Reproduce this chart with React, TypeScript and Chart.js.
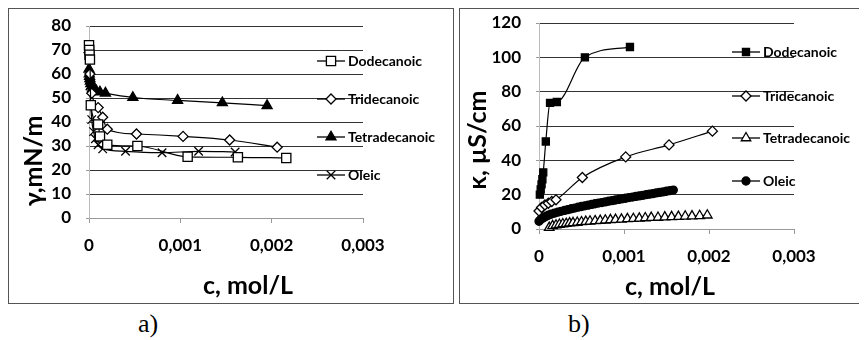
import React, { useEffect, useRef } from 'react';
import { Chart, registerables } from 'chart.js';

Chart.register(...registerables);

// ---------- Data ----------
const seriesNames = ['Dodecanoic', 'Tridecanoic', 'Tetradecanoic', 'Oleic'];
const xTickValues = [0, 0.001, 0.002, 0.003];
const xTickLabels = ['0', '0,001', '0,002', '0,003'];

// Panel a) surface tension γ (mN/m) vs c (mol/L)
const aDodecC = [0, 0.000003, 0.000006, 0.00001, 0.00002, 0.0001, 0.00012, 0.0002, 0.00053, 0.00108, 0.00163, 0.00216];
const aDodecG = [72, 70, 68, 66, 47, 39, 34, 30.5, 30, 25.5, 25.3, 25];
const aTridecC = [0, 0.00001, 0.00003, 0.0001, 0.00015, 0.0002, 0.00052, 0.00103, 0.00154, 0.00206];
const aTridecG = [69, 60, 52, 46, 42, 37, 35, 34, 32.5, 29.5];
const aTetradecC = [0, 0.000003, 0.000006, 0.00001, 0.000015, 0.00002, 0.00003, 0.00004, 0.00006, 0.00008, 0.00012, 0.00018, 0.00048, 0.00097, 0.00146, 0.00195];
const aTetradecG = [62, 60, 59, 58, 57, 56, 55, 54, 53.5, 53, 52.5, 52, 50.2, 49, 48, 46.8];
const aOleicC = [0, 0.000003, 0.00001, 0.00003, 0.00005, 0.00007, 0.0001, 0.00015, 0.0004, 0.0008, 0.0012, 0.0016];
const aOleicG = [72, 70, 55, 41, 36, 33, 30.5, 28.8, 27.8, 27.2, 27.8, 27.5];

// Panel b) conductivity κ (µS/cm) vs c (mol/L)
const bDodecC = [0.00001, 0.00002, 0.00003, 0.00004, 0.00005, 0.00008, 0.00013, 0.00021, 0.00054, 0.00107];
const bDodecK = [20, 23, 26, 29, 33, 51, 73.5, 74, 100, 106];
const bTridecC = [0, 0.00003, 0.00007, 0.00011, 0.00015, 0.0002, 0.00051, 0.00102, 0.00153, 0.00204];
const bTridecK = [10.5, 12.5, 14, 15, 16, 17, 30, 42, 49, 57];
const bTetradecC = [0.00012, 0.00016, 0.0002, 0.00024, 0.00028, 0.00032, 0.00036, 0.0004, 0.00045, 0.0005, 0.00055, 0.0006, 0.00066, 0.00072, 0.00078, 0.00084, 0.0009, 0.00097, 0.00104, 0.00111, 0.00118, 0.00125, 0.00132, 0.0014, 0.00148, 0.00156, 0.00164, 0.00172, 0.0018, 0.00189, 0.00198];
const bTetradecK = [0.8, 1.8, 2.2, 2.6, 2.9, 3.1, 3.4, 3.6, 3.8, 4.1, 4.3, 4.5, 4.7, 4.9, 5.1, 5.3, 5.5, 5.6, 5.9, 6.0, 6.2, 6.4, 6.6, 6.7, 6.9, 7.1, 7.2, 7.4, 7.5, 7.7, 8.0];
const bOleicC = [0, 0.00002, 0.00005, 0.00008, 0.00011, 0.00014, 0.00018, 0.00022, 0.00026, 0.0003, 0.00034, 0.00038, 0.00042, 0.00046, 0.0005, 0.00054, 0.00058, 0.00062, 0.00066, 0.0007, 0.00074, 0.00078, 0.00082, 0.00086, 0.0009, 0.00094, 0.00098, 0.00102, 0.00106, 0.0011, 0.00114, 0.00118, 0.00122, 0.00126, 0.0013, 0.00134, 0.00138, 0.00142, 0.00146, 0.0015, 0.00154, 0.00158];
const bOleicK = [4.5, 5.5, 6.5, 7.3, 8.0, 8.6, 9.2, 9.8, 10.3, 10.8, 11.3, 11.8, 12.2, 12.7, 13.1, 13.5, 13.9, 14.3, 14.7, 15.1, 15.4, 15.8, 16.2, 16.5, 16.9, 17.2, 17.6, 17.9, 18.3, 18.6, 19.0, 19.3, 19.6, 20.0, 20.3, 20.6, 21.0, 21.3, 21.6, 22.0, 22.3, 22.7];

// ---------- Helpers ----------
const FONT = 'Lato, "Open Sans", sans-serif';

type Marker = { style: string; r: number; fill: string };

function zip(xs: number[], ys: number[]) {
  return xs.map((x, i) => ({ x, y: ys[i] }));
}

function drawMarker(ctx: CanvasRenderingContext2D, m: Marker, x: number, y: number) {
  const r = m.r;
  ctx.beginPath();
  switch (m.style) {
    case 'rect': {
      const s = Math.SQRT1_2 * r;
      ctx.rect(x - s, y - s, 2 * s, 2 * s);
      break;
    }
    case 'rectRot':
      ctx.moveTo(x - r, y);
      ctx.lineTo(x, y - r);
      ctx.lineTo(x + r, y);
      ctx.lineTo(x, y + r);
      ctx.closePath();
      break;
    case 'triangle':
      ctx.moveTo(x, y - r);
      ctx.lineTo(x + 0.866 * r, y + 0.5 * r);
      ctx.lineTo(x - 0.866 * r, y + 0.5 * r);
      ctx.closePath();
      break;
    case 'circle':
      ctx.arc(x, y, r, 0, Math.PI * 2);
      break;
    case 'crossRot': {
      const d = Math.SQRT1_2 * r;
      ctx.moveTo(x - d, y - d);
      ctx.lineTo(x + d, y + d);
      ctx.moveTo(x + d, y - d);
      ctx.lineTo(x - d, y + d);
      break;
    }
  }
  if (m.style !== 'crossRot') {
    ctx.fillStyle = m.fill;
    ctx.fill();
  }
  ctx.stroke();
}

type PanelCfg = {
  width: number;
  height: number;
  plotLeft: number;
  plotRight: number;
  plotTop: number;
  plotBottom: number;
  yMax: number;
  yStep: number;
  xs: number[][];
  ys: number[][];
  markers: Marker[];
  legendX: number;
  legendYs: number[];
  xTitle: string;
  xTitlePos: [number, number];
  yTitle: string;
  yTitlePos: [number, number];
};

function makeChart(canvas: HTMLCanvasElement, cfg: PanelCfg) {
  const deco = {
    id: 'deco',
    afterDraw(chart: any) {
      const ctx: CanvasRenderingContext2D = chart.ctx;
      ctx.save();
      // legend
      seriesNames.forEach((name, i) => {
        const y = cfg.legendYs[i];
        const x0 = cfg.legendX;
        ctx.strokeStyle = '#000';
        ctx.lineWidth = 1.3;
        ctx.beginPath();
        ctx.moveTo(x0, y);
        ctx.lineTo(x0 + 28, y);
        ctx.stroke();
        drawMarker(ctx, cfg.markers[i], x0 + 14, y);
        ctx.fillStyle = '#000';
        ctx.font = `bold 14px ${FONT}`;
        ctx.textAlign = 'left';
        ctx.textBaseline = 'middle';
        ctx.fillText(name, x0 + 31, y + 0.5);
      });
      // axis titles
      ctx.fillStyle = '#000';
      ctx.font = `bold 25px ${FONT}`;
      ctx.textAlign = 'center';
      ctx.textBaseline = 'middle';
      ctx.fillText(cfg.xTitle, cfg.xTitlePos[0], cfg.xTitlePos[1]);
      ctx.translate(cfg.yTitlePos[0], cfg.yTitlePos[1]);
      ctx.rotate(-Math.PI / 2);
      ctx.fillText(cfg.yTitle, 0, 0);
      ctx.restore();
    },
  };

  const datasets = seriesNames.map((name, i) => ({
    label: name,
    data: zip(cfg.xs[i], cfg.ys[i]),
    showLine: true,
    clip: false,
    borderColor: '#000',
    borderWidth: 1.2,
    backgroundColor: cfg.markers[i].fill,
    pointStyle: cfg.markers[i].style,
    pointRadius: cfg.markers[i].r,
    pointBorderColor: '#000',
    pointBorderWidth: 1.3,
    pointBackgroundColor: cfg.markers[i].fill,
    cubicInterpolationMode: 'monotone',
    fill: false,
  }));

  return new Chart(canvas, {
    type: 'scatter',
    data: { datasets: datasets as any },
    plugins: [deco],
    options: {
      animation: false,
      responsive: false,
      devicePixelRatio: 1,
      layout: {
        padding: {
          left: 0,
          top: cfg.plotTop,
          right: cfg.width - cfg.plotRight,
          bottom: 0,
        },
      },
      plugins: { legend: { display: false }, tooltip: { enabled: false } },
      scales: {
        x: {
          type: 'linear',
          min: 0,
          max: 0.003,
          afterFit: (s: any) => {
            s.height = cfg.height - cfg.plotBottom;
            s.paddingLeft = 0;
            s.paddingRight = 0;
            s.paddingTop = 0;
            s.paddingBottom = 0;
          },
          afterBuildTicks: (s: any) => {
            s.ticks = xTickValues.map((v) => ({ value: v }));
          },
          grid: {
            drawOnChartArea: false,
            drawTicks: true,
            tickLength: 5,
            tickColor: '#999',
          },
          border: { color: '#999', width: 1 },
          ticks: {
            padding: 12,
            color: '#000',
            autoSkip: false,
            font: { family: FONT, size: 17, weight: 'bold' },
            maxRotation: 0,
            callback: (_v: any, i: number) => xTickLabels[i],
          },
        },
        y: {
          type: 'linear',
          min: 0,
          max: cfg.yMax,
          afterFit: (s: any) => {
            s.width = cfg.plotLeft;
            s.paddingLeft = 0;
            s.paddingRight = 0;
            s.paddingTop = 0;
            s.paddingBottom = 0;
          },
          grid: {
            color: (c: any) => (c.tick && c.tick.value === 0 ? '#999' : '#333'),
            lineWidth: 1,
            tickLength: 3,
            tickColor: '#999',
          },
          border: { color: '#bbb', width: 1 },
          ticks: {
            stepSize: cfg.yStep,
            autoSkip: false,
            padding: 15,
            color: '#000',
            font: { family: FONT, size: 17, weight: 'bold' },
          },
        },
      },
    } as any,
  });
}

const panelA: PanelCfg = {
  width: 444,
  height: 294,
  plotLeft: 80,
  plotRight: 354,
  plotTop: 17,
  plotBottom: 209,
  yMax: 80,
  yStep: 10,
  xs: [aDodecC, aTridecC, aTetradecC, aOleicC],
  ys: [aDodecG, aTridecG, aTetradecG, aOleicG],
  markers: [
    { style: 'rect', r: 6.5, fill: '#fff' },
    { style: 'rectRot', r: 5, fill: '#fff' },
    { style: 'triangle', r: 5.8, fill: '#000' },
    { style: 'crossRot', r: 6, fill: '#000' },
  ],
  legendX: 308,
  legendYs: [52, 90, 128, 166],
  xTitle: 'c, mol/L',
  xTitlePos: [239, 277],
  yTitle: 'γ,mN/m',
  yTitlePos: [25, 152],
};

const panelB: PanelCfg = {
  width: 444,
  height: 294,
  plotLeft: 79,
  plotRight: 334,
  plotTop: 14,
  plotBottom: 220,
  yMax: 120,
  yStep: 20,
  xs: [bDodecC, bTridecC, bTetradecC, bOleicC],
  ys: [bDodecK, bTridecK, bTetradecK, bOleicK],
  markers: [
    { style: 'rect', r: 5, fill: '#000' },
    { style: 'rectRot', r: 5, fill: '#fff' },
    { style: 'triangle', r: 5.5, fill: '#fff' },
    { style: 'circle', r: 4, fill: '#000' },
  ],
  legendX: 272,
  legendYs: [43, 87, 129, 172],
  xTitle: 'c, mol/L',
  xTitlePos: [210, 278],
  yTitle: 'κ, µS/cm',
  yTitlePos: [18, 131],
};

function Panel({ cfg, left }: { cfg: PanelCfg; left: number }) {
  const ref = useRef<HTMLCanvasElement>(null);
  useEffect(() => {
    if (!ref.current) return;
    const ch = makeChart(ref.current, cfg);
    return () => ch.destroy();
  }, [cfg]);
  return (
    <div
      style={{
        position: 'absolute',
        left,
        top: 0,
        width: cfg.width + 2,
        height: cfg.height + 2,
        border: '1px solid #555',
        boxSizing: 'border-box',
        background: '#fff',
      }}
    >
      <canvas
        ref={ref}
        width={cfg.width}
        height={cfg.height}
        style={{ display: 'block', width: cfg.width, height: cfg.height }}
      />
    </div>
  );
}

export default function App() {
  const cap: React.CSSProperties = {
    position: 'absolute',
    top: 301,
    fontFamily: '"Liberation Serif", "Times New Roman", serif',
    fontSize: 26,
    lineHeight: '30px',
    color: '#000',
  };
  return (
    <div style={{ position: 'relative', width: 859, height: 330, overflow: 'hidden' }}>
      <Panel cfg={panelA} left={0} />
      <Panel cfg={panelB} left={451} />
      <div style={{ ...cap, left: 130 }}>a)</div>
      <div style={{ ...cap, left: 560 }}>b)</div>
    </div>
  );
}
